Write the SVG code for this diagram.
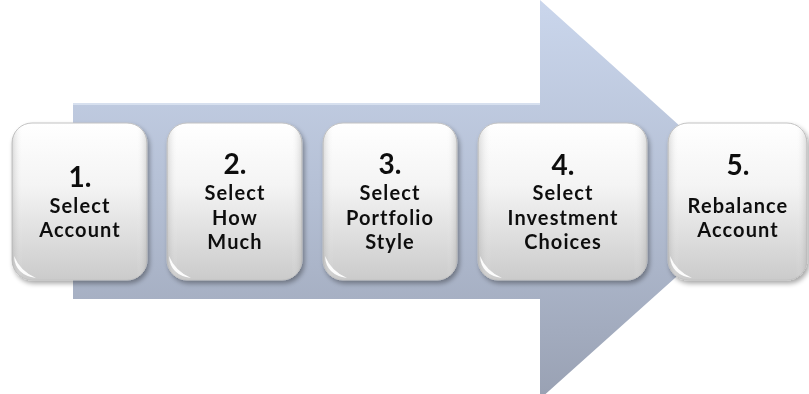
<svg xmlns="http://www.w3.org/2000/svg" width="809" height="394" viewBox="0 0 809 394">
  <defs>
    <linearGradient id="arrowFill" x1="0" y1="0" x2="0" y2="398" gradientUnits="userSpaceOnUse">
      <stop offset="0" stop-color="#cad6ec"/>
      <stop offset="0.5" stop-color="#b4bfd4"/>
      <stop offset="1" stop-color="#99a1b3"/>
    </linearGradient>
    <linearGradient id="boxFill" x1="0" y1="0" x2="0" y2="1">
      <stop offset="0" stop-color="#ffffff"/>
      <stop offset="0.4" stop-color="#f4f4f4"/>
      <stop offset="1" stop-color="#cbcbcb"/>
    </linearGradient>
    <linearGradient id="boxSides" x1="0" y1="0" x2="1" y2="0">
      <stop offset="0" stop-color="#9a9a9a" stop-opacity="0.35"/>
      <stop offset="0.08" stop-color="#ffffff" stop-opacity="0"/>
      <stop offset="0.92" stop-color="#ffffff" stop-opacity="0"/>
      <stop offset="1" stop-color="#9a9a9a" stop-opacity="0.35"/>
    </linearGradient>
    <filter id="shadow" x="-10%" y="-10%" width="125%" height="125%">
      <feGaussianBlur in="SourceAlpha" stdDeviation="2.5"/>
      <feOffset dx="2" dy="3" result="b"/>
      <feComponentTransfer><feFuncA type="linear" slope="0.35"/></feComponentTransfer>
      <feMerge><feMergeNode/><feMergeNode in="SourceGraphic"/></feMerge>
    </filter>
    <filter id="soft"><feGaussianBlur stdDeviation="0.6"/></filter>
  </defs>
  <style>
    .box { fill: url(#boxFill); stroke: #c2c2c2; stroke-width: 1; }
    .sides { fill: url(#boxSides); }
    .gloss { fill: #ffffff; opacity: 0.95; filter: url(#soft); }
    .num { font-family: Lato, "Open Sans", sans-serif; font-weight: bold; font-size: 28px; fill: #111111; text-anchor: middle; }
    .lbl { font-family: Lato, "Open Sans", sans-serif; font-weight: bold; font-size: 20px; letter-spacing: 1.1px; fill: #111111; text-anchor: middle; }
  </style>

  <!-- large background arrow -->
  <g id="connectors">
    <path d="M73,103 H540 V0 L762,200 L540,399 V299 H73 Z" fill="url(#arrowFill)"/>
    <path d="M73,104 H540" stroke="#dfe7f4" stroke-width="1.5" fill="none"/>
  </g>

  <g id="step1" filter="url(#shadow)">
    <rect class="box" x="12" y="123" width="135" height="157" rx="20"/>
    <rect class="sides" x="12" y="123" width="135" height="157" rx="20"/>
    <path class="gloss" d="M14,256 Q15,275 36,278 Q20,271 14,256 Z"/>
    <text class="num" x="80" y="187">1.</text>
    <text class="lbl" x="80" y="213">Select</text>
    <text class="lbl" x="80" y="237">Account</text>
  </g>

  <g id="step2" filter="url(#shadow)">
    <rect class="box" x="167" y="123" width="135" height="157" rx="20"/>
    <rect class="sides" x="167" y="123" width="135" height="157" rx="20"/>
    <path class="gloss" d="M169,256 Q170,275 191,278 Q175,271 169,256 Z"/>
    <text class="num" x="235" y="174">2.</text>
    <text class="lbl" x="235" y="200">Select</text>
    <text class="lbl" x="235" y="225">How</text>
    <text class="lbl" x="235" y="249">Much</text>
  </g>

  <g id="step3" filter="url(#shadow)">
    <rect class="box" x="323" y="123" width="134" height="157" rx="20"/>
    <rect class="sides" x="323" y="123" width="134" height="157" rx="20"/>
    <path class="gloss" d="M325,256 Q326,275 347,278 Q331,271 325,256 Z"/>
    <text class="num" x="390" y="174">3.</text>
    <text class="lbl" x="390" y="200">Select</text>
    <text class="lbl" x="390" y="225">Portfolio</text>
    <text class="lbl" x="390" y="249">Style</text>
  </g>

  <g id="step4" filter="url(#shadow)">
    <rect class="box" x="478" y="123" width="169" height="157" rx="20"/>
    <rect class="sides" x="478" y="123" width="169" height="157" rx="20"/>
    <path class="gloss" d="M480,256 Q481,275 502,278 Q486,271 480,256 Z"/>
    <text class="num" x="563" y="175">4.</text>
    <text class="lbl" x="563" y="200">Select</text>
    <text class="lbl" x="563" y="225">Investment</text>
    <text class="lbl" x="563" y="249">Choices</text>
  </g>

  <g id="step5" filter="url(#shadow)">
    <rect class="box" x="668" y="123" width="139" height="157" rx="20"/>
    <rect class="sides" x="668" y="123" width="139" height="157" rx="20"/>
    <path class="gloss" d="M670,256 Q671,275 692,278 Q676,271 670,256 Z"/>
    <text class="num" x="738" y="175">5.</text>
    <text class="lbl" x="738" y="213">Rebalance</text>
    <text class="lbl" x="738" y="237">Account</text>
  </g>
</svg>
